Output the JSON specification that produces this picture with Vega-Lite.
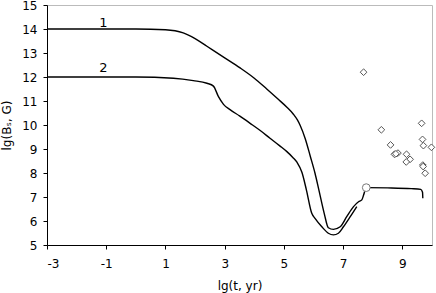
{
  "$schema": "https://vega.github.io/schema/vega-lite/v6.json",
  "autosize": {"type": "none"},
  "width": 385,
  "height": 240,
  "padding": {"left": 47, "top": 5, "right": 4, "bottom": 48},
  "background": "white",
  "config": {
    "view": {"stroke": "#bbbbbb", "strokeWidth": 1},
    "font": "DejaVu Sans",
    "axis": {
      "grid": false,
      "domainColor": "black",
      "tickColor": "black",
      "tickSize": 4,
      "labelFont": "DejaVu Sans",
      "labelFontSize": 12,
      "labelColor": "black",
      "labelOverlap": false,
      "titleFont": "DejaVu Sans",
      "titleFontSize": 12,
      "titleFontWeight": "normal",
      "titleColor": "black"
    }
  },
  "datasets": {
    "curves": [
      {"series": "1", "x": -3, "y": 14}, {"series": "1", "x": 0, "y": 14}, {"series": "1", "x": 1, "y": 13.97},
      {"series": "1", "x": 1.6, "y": 13.84}, {"series": "1", "x": 2.0, "y": 13.6}, {"series": "1", "x": 2.4, "y": 13.28},
      {"series": "1", "x": 3.0, "y": 12.8}, {"series": "1", "x": 3.52, "y": 12.38}, {"series": "1", "x": 4.0, "y": 11.95},
      {"series": "1", "x": 4.42, "y": 11.5}, {"series": "1", "x": 4.8, "y": 11.08}, {"series": "1", "x": 5.1, "y": 10.74},
      {"series": "1", "x": 5.32, "y": 10.45}, {"series": "1", "x": 5.45, "y": 10.22}, {"series": "1", "x": 5.55, "y": 9.98},
      {"series": "1", "x": 5.72, "y": 9.43}, {"series": "1", "x": 5.89, "y": 8.7}, {"series": "1", "x": 6.05, "y": 7.99},
      {"series": "1", "x": 6.17, "y": 7.35}, {"series": "1", "x": 6.36, "y": 6.32},
      {"series": "1", "x": 6.5, "y": 5.72}, {"series": "1", "x": 6.67, "y": 5.65}, {"series": "1", "x": 6.9, "y": 5.76},
      {"series": "1", "x": 7.12, "y": 6.18}, {"series": "1", "x": 7.35, "y": 6.6}, {"series": "1", "x": 7.52, "y": 6.8},
      {"series": "1", "x": 7.63, "y": 6.88}, {"series": "1", "x": 7.69, "y": 7.08}, {"series": "1", "x": 7.78, "y": 7.39},
      {"series": "1", "x": 8.5, "y": 7.38}, {"series": "1", "x": 9.3, "y": 7.35}, {"series": "1", "x": 9.62, "y": 7.32},
      {"series": "1", "x": 9.68, "y": 7.2}, {"series": "1", "x": 9.69, "y": 6.95},
      {"series": "2", "x": -3, "y": 12}, {"series": "2", "x": 0, "y": 12}, {"series": "2", "x": 1.27, "y": 11.95},
      {"series": "2", "x": 1.94, "y": 11.85}, {"series": "2", "x": 2.4, "y": 11.74}, {"series": "2", "x": 2.62, "y": 11.62},
      {"series": "2", "x": 2.79, "y": 11.18}, {"series": "2", "x": 2.96, "y": 10.86}, {"series": "2", "x": 3.18, "y": 10.64},
      {"series": "2", "x": 3.5, "y": 10.38}, {"series": "2", "x": 3.86, "y": 10.07}, {"series": "2", "x": 4.2, "y": 9.77},
      {"series": "2", "x": 4.53, "y": 9.45}, {"series": "2", "x": 4.85, "y": 9.14}, {"series": "2", "x": 5.1, "y": 8.89},
      {"series": "2", "x": 5.3, "y": 8.65}, {"series": "2", "x": 5.44, "y": 8.45}, {"series": "2", "x": 5.61, "y": 8.02},
      {"series": "2", "x": 5.76, "y": 7.29}, {"series": "2", "x": 5.94, "y": 6.32}, {"series": "2", "x": 6.05, "y": 6.11},
      {"series": "2", "x": 6.28, "y": 5.76}, {"series": "2", "x": 6.5, "y": 5.49}, {"series": "2", "x": 6.67, "y": 5.42},
      {"series": "2", "x": 6.84, "y": 5.49}, {"series": "2", "x": 7.01, "y": 5.76}, {"series": "2", "x": 7.24, "y": 6.18},
      {"series": "2", "x": 7.46, "y": 6.6}
    ],
    "stars": [
      {"x": 7.69, "y": 12.2}, {"x": 9.65, "y": 10.07}, {"x": 8.29, "y": 9.8}, {"x": 9.68, "y": 9.4},
      {"x": 9.71, "y": 9.14}, {"x": 9.98, "y": 9.07}, {"x": 8.6, "y": 9.17}, {"x": 8.73, "y": 8.78},
      {"x": 8.85, "y": 8.83}, {"x": 8.78, "y": 8.8}, {"x": 9.14, "y": 8.78}, {"x": 9.26, "y": 8.57},
      {"x": 9.13, "y": 8.46}, {"x": 9.69, "y": 8.33}, {"x": 9.7, "y": 8.27}, {"x": 9.77, "y": 7.99}
    ],
    "marker": [{"x": 7.78, "y": 7.39}],
    "labels": [{"x": -1.1, "y": 14.26, "t": "1"}, {"x": -1.1, "y": 12.36, "t": "2"}]
  },
  "encoding": {
    "x": {"field": "x", "type": "quantitative", "scale": {"domain": [-3, 10], "nice": false, "zero": false},
          "axis": {"values": [-3, -1, 1, 3, 5, 7, 9], "labelExpr": "toString(datum.value)", "labelOverlap": false, "title": "lg(t, yr)", "labelPadding": 9, "titlePadding": 11}},
    "y": {"field": "y", "type": "quantitative", "scale": {"domain": [5, 15], "nice": false, "zero": false},
          "axis": {"values": [5, 6, 7, 8, 9, 10, 11, 12, 13, 14, 15], "labelExpr": "toString(datum.value)", "labelOverlap": false, "labelBound": false, "title": "lg(Bₛ, G)", "labelPadding": 6, "titlePadding": 8}}
  },
  "layer": [
    {
      "data": {"name": "curves"},
      "mark": {"type": "line", "color": "black", "strokeWidth": 1.4, "interpolate": "monotone"},
      "encoding": {"detail": {"field": "series"}}
    },
    {
      "data": {"name": "stars"},
      "mark": {"type": "point", "shape": "diamond", "filled": true, "fill": "white", "stroke": "#555555", "strokeWidth": 1, "size": 45, "opacity": 1}
    },
    {
      "data": {"name": "marker"},
      "mark": {"type": "point", "shape": "circle", "filled": true, "fill": "white", "stroke": "#777777", "strokeWidth": 1, "size": 60, "opacity": 1}
    },
    {
      "data": {"name": "labels"},
      "mark": {"type": "text", "font": "DejaVu Sans", "fontSize": 13, "color": "black", "baseline": "middle", "align": "center"},
      "encoding": {"text": {"field": "t"}}
    }
  ]
}
